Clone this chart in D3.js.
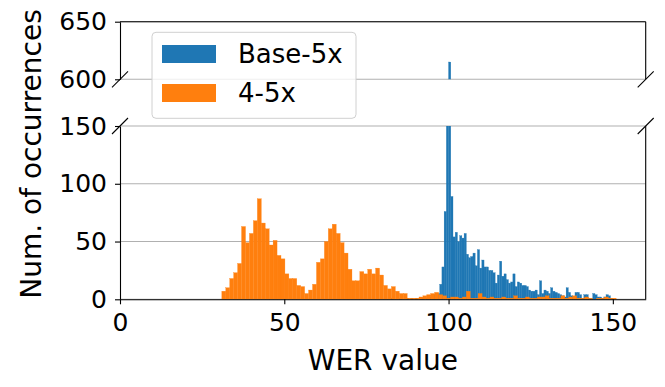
<!DOCTYPE html>
<html>

<head>
    <meta charset="utf-8" />
    <title>WER histogram</title>
    <script src="https://d3js.org/d3.v7.min.js" charset="utf-8"></script>

    <style type="text/css">
        body {
            margin: 0;
            background: #fff;
        }

        #chart svg {
            font-family: "DejaVu Sans", sans-serif;
        }

        #chart .grid line {
            stroke: #b0b0b0;
            stroke-width: 1.1px;
        }

        #chart .axis path,
        #chart .axis line {
            stroke: #000;
            stroke-width: 1.1px;
        }

        #chart .brk {
            stroke: #000;
            stroke-width: 1.1px;
        }
    </style>
</head>

<body>

    <div id="chart"></div>

    <script>
        // Series names (legend order)
        var seriesNames = ["Base-5x", "4-5x"]

        // Base-5x histogram: first bin edge, bin width, counts per bin
        var baseStart = 82.45
        var baseWidth = 0.675
        var baseCounts = [
            1, 0, 0, 0, 1, 0, 0, 1, 0, 1,
            0, 1, 0, 1, 1, 0, 1, 2, 3, 4,
            5, 5, 13, 28, 76, 180, 615, 89, 54, 58,
            50, 55, 53, 57, 39, 36, 37, 40, 29, 43,
            27, 34, 28, 28, 25, 25, 23, 14, 21, 33,
            20, 22, 17, 14, 15, 22, 11, 15, 14, 12,
            12, 11, 8, 7, 7, 8, 4, 16, 5, 8,
            7, 5, 10, 7, 6, 5, 4, 3, 2, 10,
            6, 3, 2, 6, 6, 4, 1, 4, 4, 1,
            1, 5, 4, 2, 2, 1, 2, 4, 3, 1
        ]

        // 4-5x histogram
        var fourStart = 31
        var fourWidth = 1.2
        var fourCounts = [
            7, 10, 18, 23, 31, 63, 49, 57, 68, 87,
            66, 61, 47, 51, 38, 35, 22, 18, 18, 12,
            11, 5, 8, 13, 32, 35, 50, 61, 65, 57,
            49, 40, 26, 16, 16, 24, 22, 26, 22, 27,
            21, 12, 9, 11, 7, 5, 5, 1, 1, 1,
            2, 3, 4, 5, 6, 4, 3, 1, 2, 2,
            1, 2, 7, 1, 1, 5, 2, 1, 2, 1,
            1, 2, 1, 1, 3, 1, 1, 2, 1, 1,
            2, 2, 3, 1, 1, 1, 3, 1, 2, 3,
            1, 1, 2, 1, 0, 1, 1, 2, 1, 1
        ]

        // Tick labels
        var xTicks = [0, 50, 100, 150]
        var yTicksTop = [600, 650]
        var yTicksBottom = [0, 50, 100, 150]

        var colors = ["#1f77b4", "#ff7f0e"]

        function toBins(start, w, counts) {
            return counts.map(function(c, i) {
                return { x0: start + i * w, x1: start + (i + 1) * w, n: c }
            })
        }
        var series = [
            toBins(baseStart, baseWidth, baseCounts),
            toBins(fourStart, fourWidth, fourCounts)
        ]

        var W = 665, H = 387
        var fontSize = 25
        var labelSize = 28

        // Scales: one x, two y panels (broken axis)
        var xScale = d3.scaleLinear().domain([0, 160]).range([120, 645.7])
        var yTop = d3.scaleLinear().domain([600, 650]).range([79.3, 21.7])
        var yBot = d3.scaleLinear().domain([0, 150]).range([299.3, 126])

        var svg = d3.select("#chart")
            .append("svg")
            .attr("width", W)
            .attr("height", H)

        var defs = svg.append("defs")

        var panels = [
            { id: "top", y: yTop, ticks: yTicksTop },
            { id: "bot", y: yBot, ticks: yTicksBottom }
        ]

        panels.forEach(function(p) {
            var r = p.y.range()
            defs.append("clipPath").attr("id", "clip-" + p.id)
                .append("rect")
                .attr("x", xScale.range()[0])
                .attr("y", r[1])
                .attr("width", xScale.range()[1] - xScale.range()[0])
                .attr("height", r[0] - r[1])

            // gridlines
            svg.append("g").attr("class", "grid")
                .selectAll("line")
                .data(p.ticks)
                .enter().append("line")
                .attr("x1", xScale.range()[0])
                .attr("x2", xScale.range()[1])
                .attr("y1", function(d) { return p.y(d) })
                .attr("y2", function(d) { return p.y(d) })

            var g = svg.append("g").attr("clip-path", "url(#clip-" + p.id + ")")
            series.forEach(function(bins, k) {
                g.append("g")
                    .selectAll("rect")
                    .data(bins.filter(function(b) { return b.n > 0 }))
                    .enter().append("rect")
                    .attr("x", function(d) { return xScale(d.x0) })
                    .attr("width", function(d) { return xScale(d.x1) - xScale(d.x0) })
                    .attr("y", function(d) { return p.y(Math.min(d.n, p.y.domain()[1] + 10)) })
                    .attr("height", function(d) {
                        return p.y(p.y.domain()[0] - 10) - p.y(Math.min(d.n, p.y.domain()[1] + 10))
                    })
                    .attr("fill", colors[k])
                    .attr("stroke", colors[k])
                    .attr("stroke-width", 0.3)
            })

            // left axis
            svg.append("g").attr("class", "axis")
                .attr("transform", "translate(" + xScale.range()[0] + ",0)")
                .call(d3.axisLeft(p.y).tickValues(p.ticks).tickSize(5).tickSizeOuter(0).tickPadding(8))
                .attr("font-size", fontSize)
                .attr("font-family", "DejaVu Sans, sans-serif")

            // right spine
            svg.append("line").attr("class", "brk")
                .attr("x1", xScale.range()[1]).attr("x2", xScale.range()[1])
                .attr("y1", r[0]).attr("y2", r[1])
        })

        // top spine of the upper panel
        svg.append("line").attr("class", "brk")
            .attr("x1", xScale.range()[0]).attr("x2", xScale.range()[1])
            .attr("y1", yTop.range()[1]).attr("y2", yTop.range()[1])

        // x axis
        svg.append("g").attr("class", "axis")
            .attr("transform", "translate(0," + yBot.range()[0] + ")")
            .call(d3.axisBottom(xScale).tickValues(xTicks).tickSize(5).tickSizeOuter(0).tickPadding(9))
            .attr("font-size", fontSize)
            .attr("font-family", "DejaVu Sans, sans-serif")

        // break marks
        var d = 8
        var breaks = []
        xScale.range().forEach(function(xx) {
            breaks.push([xx, yTop.range()[0]])
            breaks.push([xx, yBot.range()[1]])
        })
        svg.selectAll(".mark").data(breaks).enter().append("line")
            .attr("class", "brk")
            .attr("x1", function(b) { return b[0] - d })
            .attr("y1", function(b) { return b[1] + d })
            .attr("x2", function(b) { return b[0] + d })
            .attr("y2", function(b) { return b[1] - d })

        // axis labels
        svg.append("text")
            .attr("x", (xScale.range()[0] + xScale.range()[1]) / 2)
            .attr("y", 370)
            .attr("text-anchor", "middle")
            .attr("font-size", labelSize)
            .text("WER value")

        svg.append("text")
            .attr("transform", "translate(41,154) rotate(-90)")
            .attr("text-anchor", "middle")
            .attr("font-size", labelSize)
            .text("Num. of occurrences")

        // legend
        var leg = svg.append("g").attr("transform", "translate(152,32.3)")
        leg.append("rect")
            .attr("width", 204).attr("height", 86)
            .attr("rx", 4)
            .attr("fill", "#fff").attr("fill-opacity", 0.8)
            .attr("stroke", "#d0d0d0").attr("stroke-width", 1)
        seriesNames.forEach(function(name, i) {
            leg.append("rect")
                .attr("x", 10).attr("y", 12.7 + i * 39)
                .attr("width", 54).attr("height", 18)
                .attr("fill", colors[i])
            leg.append("text")
                .attr("x", 86).attr("y", 31 + i * 39)
                .attr("font-size", 26)
                .text(name)
        })
    </script>

</body>

</html>
